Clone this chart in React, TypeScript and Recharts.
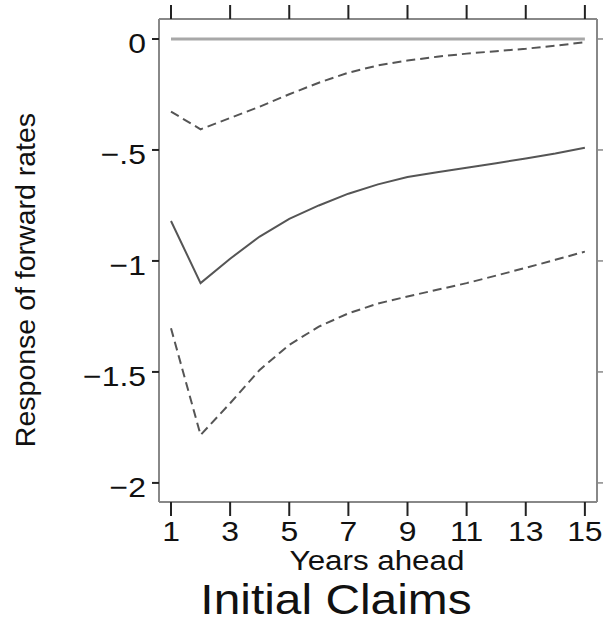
import React from 'react';
import { LineChart, Line, XAxis, YAxis, ReferenceLine } from 'recharts';

const years = [1, 2, 3, 4, 5, 6, 7, 8, 9, 10, 11, 12, 13, 14, 15];
const response = [-0.82, -1.1, -0.99, -0.89, -0.81, -0.75, -0.697, -0.655, -0.622, -0.6, -0.58, -0.56, -0.538, -0.516, -0.49];
const upperBand = [-0.327, -0.407, -0.356, -0.305, -0.249, -0.197, -0.152, -0.119, -0.097, -0.08, -0.066, -0.055, -0.044, -0.03, -0.015];
const lowerBand = [-1.303, -1.784, -1.641, -1.491, -1.378, -1.296, -1.236, -1.192, -1.16, -1.13, -1.1, -1.066, -1.031, -0.995, -0.958];
const xTicks = [1, 3, 5, 7, 9, 11, 13, 15];
const yTicks = [0, -0.5, -1, -1.5, -2];
const yTickLabels = ['0', '\u2212.5', '\u22121', '\u22121.5', '\u22122'];

const data = years.map((y, i) => ({ year: y, mid: response[i], hi: upperBand[i], lo: lowerBand[i] }));

const FONT = '"Liberation Sans", Arial, sans-serif';
const SX = 1.12;

const XTick = (props: any) => {
  const { x, payload } = props;
  return (
    <text transform={`translate(${x},541) scale(${SX},1)`} textAnchor="middle" fontFamily={FONT} fontSize={28.5} fill="#111">
      {String(payload.value)}
    </text>
  );
};

const YTick = (props: any) => {
  const { y, payload } = props;
  const idx = yTicks.indexOf(payload.value);
  const label = idx >= 0 ? yTickLabels[idx] : String(payload.value);
  return (
    <text transform={`translate(146,${y + 14}) scale(${SX},1)`} textAnchor="end" fontFamily={FONT} fontSize={28.5} fill="#111">
      {label}
    </text>
  );
};

const EmptyTick = () => <g />;

export default function App() {
  return (
    <div style={{ position: 'absolute', left: 0, top: 0, width: 605, height: 624, background: '#fff' }}>
      <LineChart
        width={605}
        height={624}
        data={data}
        margin={{ top: 5, right: 1, bottom: 72, left: 99 }}
      >
        <XAxis
          xAxisId="bottom"
          dataKey="year"
          type="number"
          domain={[0.594, 15.41]}
          ticks={xTicks}
          orientation="bottom"
          height={50}
          axisLine={{ stroke: '#888', strokeWidth: 2 }}
          tickLine={{ stroke: '#222', strokeWidth: 2 }}
          tickSize={14}
          tick={<XTick />}
          allowDataOverflow
        />
        <XAxis
          xAxisId="top"
          dataKey="year"
          type="number"
          domain={[0.594, 15.41]}
          ticks={xTicks}
          orientation="top"
          height={14}
          axisLine={{ stroke: '#888', strokeWidth: 2 }}
          tickLine={{ stroke: '#222', strokeWidth: 2 }}
          tickSize={14}
          tick={<EmptyTick />}
          allowDataOverflow
        />
        <YAxis
          yAxisId="left"
          type="number"
          domain={[-2.086, 0.09]}
          ticks={yTicks}
          width={60}
          axisLine={{ stroke: '#888', strokeWidth: 2 }}
          tickLine={{ stroke: '#222', strokeWidth: 2 }}
          tickSize={7}
          tick={<YTick />}
          allowDataOverflow
        />
        <YAxis
          yAxisId="right"
          orientation="right"
          type="number"
          domain={[-2.086, 0.09]}
          ticks={yTicks}
          width={7}
          axisLine={{ stroke: '#888', strokeWidth: 2 }}
          tickLine={{ stroke: '#888', strokeWidth: 1.5 }}
          tickSize={6}
          tick={<EmptyTick />}
          allowDataOverflow
        />
        <ReferenceLine
          xAxisId="bottom"
          yAxisId="left"
          segment={[{ x: 1, y: 0 }, { x: 15, y: 0 }]}
          stroke="#a8a8a8"
          strokeWidth={3}
          ifOverflow="extendDomain"
        />
        <Line xAxisId="bottom" yAxisId="left" dataKey="hi" type="linear" stroke="#555" strokeWidth={2} strokeDasharray="9 5" dot={false} isAnimationActive={false} />
        <Line xAxisId="bottom" yAxisId="left" dataKey="mid" type="linear" stroke="#555" strokeWidth={2} dot={false} isAnimationActive={false} />
        <Line xAxisId="bottom" yAxisId="left" dataKey="lo" type="linear" stroke="#555" strokeWidth={2} strokeDasharray="9 5" dot={false} isAnimationActive={false} />
      </LineChart>
      <svg width={605} height={624} style={{ position: 'absolute', left: 0, top: 0, pointerEvents: 'none' }}>
        <text transform={`translate(377,570) scale(1.14,1)`} textAnchor="middle" fontFamily={FONT} fontSize={27.5} fill="#111">
          Years ahead
        </text>
        <text transform={`translate(336,614) scale(1.14,1)`} textAnchor="middle" fontFamily={FONT} fontSize={42} fill="#111">
          Initial Claims
        </text>
        <text transform="translate(35,280) rotate(-90)" textAnchor="middle" fontFamily={FONT} fontSize={28.5} fill="#111">
          Response of forward rates
        </text>
      </svg>
    </div>
  );
}
